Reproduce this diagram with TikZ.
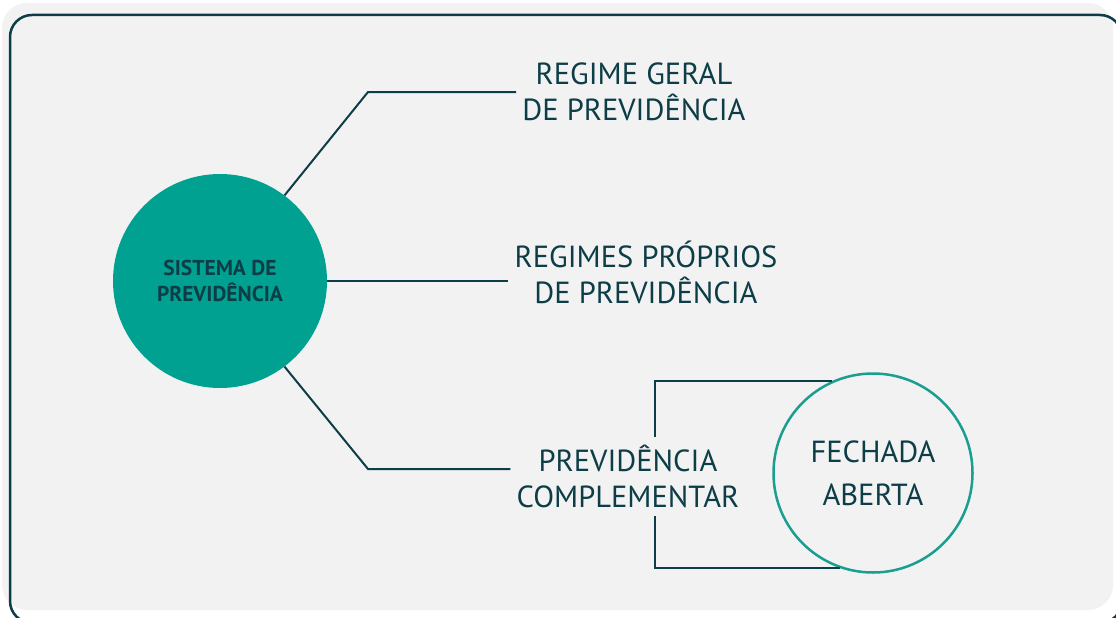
\documentclass[tikz,border=0pt]{standalone}
\usepackage{fontspec}
\setmainfont{PT Sans}
\definecolor{ink}{HTML}{0D3D47}
\definecolor{sea}{HTML}{00A191}
\definecolor{ring}{HTML}{1A9E8F}
\definecolor{panel}{HTML}{F2F2F2}
\tikzset{
  link/.style = {draw=ink, line width=2pt},
}
\begin{document}
\begin{tikzpicture}[
x=1pt, y=-1pt,
every node/.style = {align=center, text=ink, inner sep=6pt, font=\fontsize{30.5}{36}\selectfont},
]
  \useasboundingbox (0,0) rectangle (1116,618);
  \clip (0,0) rectangle (1116,618);
  \fill[white] (0,0) rectangle (1116,618);
  \fill[panel, rounded corners=25pt] (2,3) rectangle (1113,610);
  \draw[ink, line width=2.5pt, rounded corners=22pt] (10,15) rectangle (1122,623);

  % centre and branches
  \node[circle, fill=sea, minimum size=214pt, font=\bfseries\fontsize{21.5}{26}\selectfont] (sys) at (220,281) {SISTEMA DE\\PREVIDÊNCIA};
  \node (geral) at (634,92) {REGIME GERAL\\DE PREVIDÊNCIA};
  \node (proprios) at (646,272) {REGIMES PRÓPRIOS\\DE PREVIDÊNCIA};
  \node (compl) at (628,476) {PREVIDÊNCIA\\COMPLEMENTAR};

  \coordinate (k1) at (368,92);
  \coordinate (k2) at (368,469);
  \draw[link] (sys.53) -- (k1) -- (k1 -| geral.west);
  \draw[link] (sys.east) -- (sys.east -| proprios.west);
  \draw[link] (sys.-53) -- (k2) -- (k2 -| compl.west);

  % bracket to the ring
  \coordinate (ct) at (655,437);
  \coordinate (cb) at (655,516);
  \node[circle, draw=ring, line width=2.5pt, fill=panel, minimum size=199pt, font=\fontsize{30.5}{43}\selectfont] (tipos) at (873,473) {FECHADA\\ABERTA};
  \draw[link] (ct) |- (tipos.114);
  \draw[link] (cb) |- (tipos.-109);
\end{tikzpicture}
\end{document}
